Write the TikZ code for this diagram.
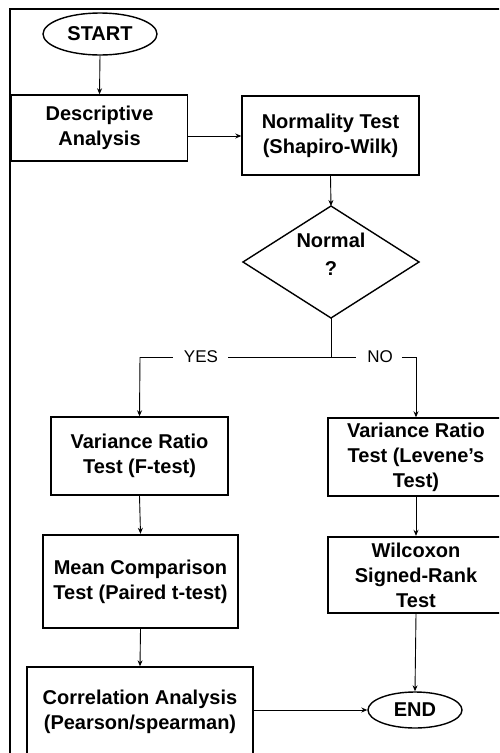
\documentclass[tikz,border=0pt]{standalone}
\usepackage{fontspec}
\setmainfont{Liberation Sans}
\usetikzlibrary{arrows.meta,shapes.geometric}
\begin{document}
\begin{tikzpicture}[x=1pt,y=-1pt,
  box/.style={draw,line width=1.4pt,rectangle,align=center,font=\fontsize{20}{25}\selectfont\bfseries,inner sep=0pt},
  thickbox/.style={box,line width=2.4pt},
  term/.style={draw,line width=1.4pt,ellipse,inner sep=0pt,font=\fontsize{20}{25}\selectfont\bfseries},
  conn/.style={line width=0.9pt,-{Stealth[length=6pt,width=5pt]}},
  seg/.style={line width=0.9pt},
  lbl/.style={font=\fontsize{17}{20}\selectfont,inner sep=0pt}]
\useasboundingbox (0,0) rectangle (499,753);
\clip (0,0) rectangle (499,753);
\fill[white] (0,0) rectangle (499,753);
\draw[line width=1.8pt] (10,9) rectangle (540,800);
% nodes
\node[term,minimum width=114,minimum height=42] (start) at (100,34) {START};
\node[box,minimum width=176,minimum height=66] (desc) at (99.5,128) {Descriptive\\Analysis};
\node[box,minimum width=177,minimum height=79] (norm) at (330.5,135.5) {Normality Test\\(Shapiro-Wilk)};
\coordinate (dt) at (331,206);
\coordinate (dr) at (419,262);
\coordinate (db) at (331,318);
\coordinate (dl) at (243,262);
\draw[line width=1.4pt] (dt) -- (dr) -- (db) -- (dl) -- cycle;
\node[font=\fontsize{20}{28}\selectfont\bfseries,align=center] (dec) at (331,254) {Normal\\?};
\node[box,minimum width=177,minimum height=78] (varf) at (139.5,456) {Variance Ratio\\Test (F-test)};
\node[box,minimum width=176,minimum height=78] (varl) at (416,457) {Variance Ratio\\Test (Levene's\\Test)};
\node[thickbox,minimum width=195,minimum height=93] (mean) at (140.5,581.5) {Mean Comparison\\Test (Paired t-test)};
\node[thickbox,minimum width=176,minimum height=76] (wil) at (416,575) {Wilcoxon\\Signed-Rank\\Test};
\node[box,minimum width=226,minimum height=90] (corr) at (140,712) {Correlation Analysis\\(Pearson/spearman)};
\node[term,minimum width=94,minimum height=36] (end) at (415,710) {END};
% labels
\node[lbl] (yes) at (201,357) {YES};
\node[lbl] (no) at (380,357) {NO};
\coordinate (j) at (331,357);
\coordinate (yl) at (140,357);
\coordinate (nr) at (416,357);
% connectors
\draw[conn] (start.south) -- (desc.north);
\draw[conn] (desc.east |- 0,136) -- (norm.west |- 0,136);
\draw[conn] (norm.south) -- (dt);
\draw[seg] (db) -- (j);
\draw[seg] (j) -- ([xshift=10pt]yes.east);
\draw[seg] ([xshift=-11pt]yes.west) -- (yl);
\draw[conn] (yl) -- (varf.north);
\draw[seg] (j) -- ([xshift=-11pt]no.west);
\draw[seg] ([xshift=9pt]no.east) -- (nr);
\draw[conn] (nr) -- (varl.north);
\draw[conn] (varf.south) -- (mean.north);
\draw[conn] (varl.south) -- (wil.north);
\draw[conn] (mean.south) -- (corr.north);
\draw[conn] (wil.south) -- (end.north);
\draw[conn] (corr.east |- end.west) -- (end.west);
\end{tikzpicture}
\end{document}
